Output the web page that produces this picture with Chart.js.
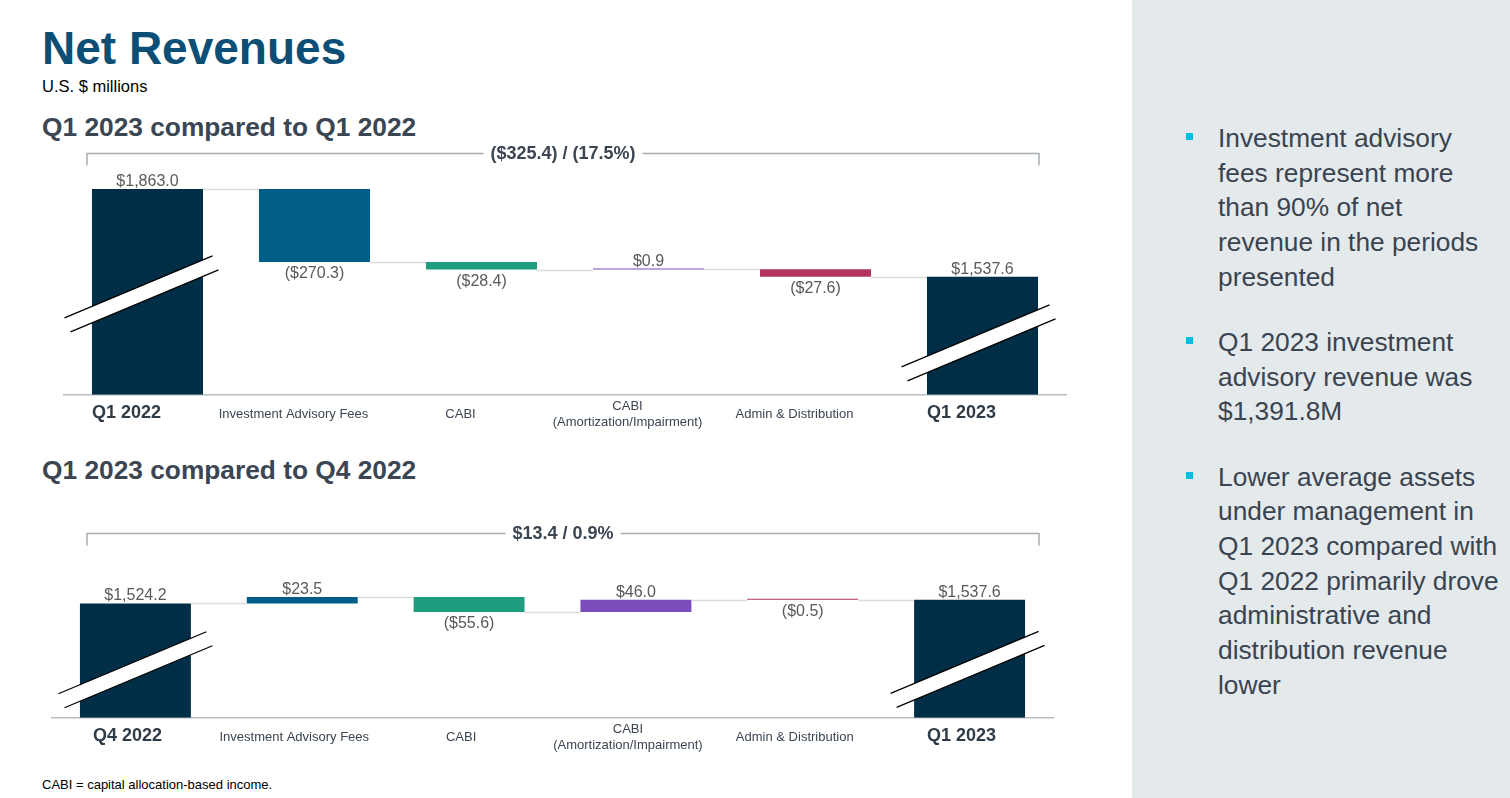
<!DOCTYPE html>
<html>
<head>
<meta charset="utf-8">
<title>Net Revenues</title>
<script src="https://cdn.jsdelivr.net/npm/chart.js@4.4.0/dist/chart.umd.min.js"></script>
<style>
  body { margin: 0; width: 1510px; height: 798px; position: relative; overflow: hidden; background: #fff;
         font-family: "Liberation Sans", Arial, sans-serif; }
  .abs { position: absolute; white-space: nowrap; line-height: 1; }
  #title { left: 42px; top: 25px; font-size: 46px; font-weight: bold; color: #0b4e76; }
  #units { left: 42px; top: 78px; font-size: 16.5px; color: #000; }
  .section { left: 42px; font-size: 26.3px; font-weight: bold; color: #3b4652; }
  #foot { left: 42px; top: 778px; font-size: 13px; color: #000; }
  .chartBox { position: absolute; left: 0; width: 1100px; }
  #panel { position: absolute; left: 1132px; top: 0; width: 378px; height: 798px; background: #e4e9ec; }
  #panel ul { list-style: none; margin: 0; padding: 0; position: absolute; left: 86px; top: 121px; }
  #panel li { position: relative; font-size: 26.3px; line-height: 34.7px; color: #3a4450; margin-bottom: 30.5px; white-space: nowrap; }
  #panel li::before { content: ""; position: absolute; left: -32px; top: 12px; width: 7px; height: 7px; background: #00bfe3; }
</style>
</head>
<body>
<div id="title" class="abs">Net Revenues</div>
<div id="units" class="abs">U.S. $ millions</div>
<div class="abs section" style="top:114px">Q1 2023 compared to Q1 2022</div>
<div class="abs section" style="top:457px">Q1 2023 compared to Q4 2022</div>

<div class="chartBox" style="top:140px; height:310px;"><canvas id="chartQ1"></canvas></div>
<div class="chartBox" style="top:500px; height:273px;"><canvas id="chartQ4"></canvas></div>

<div id="foot" class="abs">CABI = capital allocation-based income.</div>

<div id="panel">
  <ul>
    <li>Investment advisory<br>fees represent more<br>than 90% of net<br>revenue in the periods<br>presented</li>
    <li>Q1 2023 investment<br>advisory revenue was<br>$1,391.8M</li>
    <li>Lower average assets<br>under management in<br>Q1 2023 compared with<br>Q1 2022 primarily drove<br>administrative and<br>distribution revenue<br>lower</li>
  </ul>
</div>

<script>
// Axis floor for the broken total bars
const AXIS_MIN = 1100;

// Q1 2023 compared to Q1 2022
const q1Categories = ['Q1 2022', 'Investment Advisory Fees', 'CABI', ['CABI', '(Amortization/Impairment)'], 'Admin & Distribution', 'Q1 2023'];
const q1Start = 1863.0;
const q1Changes = [-270.3, -28.4, 0.9, -27.6];
const q1End = 1537.6;
const q1Bracket = '($325.4) / (17.5%)';

// Q1 2023 compared to Q4 2022
const q4Categories = ['Q4 2022', 'Investment Advisory Fees', 'CABI', ['CABI', '(Amortization/Impairment)'], 'Admin & Distribution', 'Q1 2023'];
const q4Start = 1524.2;
const q4Changes = [23.5, -55.6, 46.0, -0.5];
const q4End = 1537.6;
const q4Bracket = '$13.4 / 0.9%';

const barColors = ['#002e46', '#005d88', '#1f9e7f', '#7a4cbc', '#b03360', '#002e46'];

// Build floating [from, to] pairs for a waterfall
function buildWaterfall(start, changes, end) {
    const rows = [[AXIS_MIN, start]];
    let level = start;
    changes.forEach(c => {
        rows.push([level, level + c]);
        level += c;
    });
    rows.push([AXIS_MIN, end]);
    return rows;
}

function money(v) {
    const s = '$' + Math.abs(v).toLocaleString('en-US', { minimumFractionDigits: 1, maximumFractionDigits: 1 });
    return v < 0 ? '(' + s + ')' : s;
}

// Connectors, value labels, axis breaks and the total bracket
const waterfallExtras = {
    id: 'waterfallExtras',
    afterDatasetsDraw(chart, args, opts) {
        const ctx = chart.ctx;
        const bars = chart.getDatasetMeta(0).data;
        const rows = chart.data.datasets[0].data;
        const yScale = chart.scales.y;
        const last = bars.length - 1;
        ctx.save();

        // connectors between bars
        ctx.strokeStyle = '#dcdcdc';
        ctx.lineWidth = 1.5;
        for (let i = 0; i < last; i++) {
            const py = Math.round(yScale.getPixelForValue(rows[i][1])) + 0.5;
            const x1 = bars[i].x + bars[i].width / 2;
            const x2 = bars[i + 1].x - bars[i + 1].width / 2;
            ctx.beginPath();
            ctx.moveTo(x1, py);
            ctx.lineTo(x2, py);
            ctx.stroke();
        }

        // value labels
        ctx.font = '16px "Liberation Sans", Arial, sans-serif';
        ctx.fillStyle = '#595959';
        ctx.textAlign = 'center';
        ctx.textBaseline = 'alphabetic';
        opts.values.forEach((v, i) => {
            const b = bars[i];
            const top = Math.min(b.y, b.base);
            const bottom = Math.max(b.y, b.base);
            if (v < 0) {
                ctx.fillText(money(v), b.x, bottom + 16);
            } else {
                ctx.fillText(money(v), b.x, top - 3);
            }
        });

        // axis break marks on the two total bars
        [0, last].forEach((i, k) => {
            const b = bars[i];
            const top = Math.min(b.y, b.base);
            const bottom = Math.max(b.y, b.base);
            const cx = b.x + opts.breakShift[k];
            const cy = top + (bottom - top) * opts.breakAt[k];
            const hx = 74, hy = 31, ox = 6, oy = 14;
            ctx.beginPath();
            ctx.moveTo(cx - hx - ox / 2, cy + hy - oy / 2);
            ctx.lineTo(cx + hx - ox / 2, cy - hy - oy / 2);
            ctx.lineTo(cx + hx + ox / 2, cy - hy + oy / 2);
            ctx.lineTo(cx - hx + ox / 2, cy + hy + oy / 2);
            ctx.closePath();
            ctx.fillStyle = '#ffffff';
            ctx.fill();
            ctx.strokeStyle = '#000000';
            ctx.lineWidth = 1.3;
            ctx.beginPath();
            ctx.moveTo(cx - hx - ox / 2, cy + hy - oy / 2);
            ctx.lineTo(cx + hx - ox / 2, cy - hy - oy / 2);
            ctx.moveTo(cx - hx + ox / 2, cy + hy + oy / 2);
            ctx.lineTo(cx + hx + ox / 2, cy - hy + oy / 2);
            ctx.stroke();
        });

        // bracket with total change
        const br = opts.bracket;
        const mid = (br.x1 + br.x2) / 2;
        ctx.font = 'bold 18px "Liberation Sans", Arial, sans-serif';
        const tw = ctx.measureText(br.text).width;
        ctx.strokeStyle = '#a7adb3';
        ctx.lineWidth = 1.5;
        ctx.beginPath();
        ctx.moveTo(br.x1, br.y + 12);
        ctx.lineTo(br.x1, br.y);
        ctx.lineTo(mid - tw / 2 - 7, br.y);
        ctx.moveTo(mid + tw / 2 + 7, br.y);
        ctx.lineTo(br.x2, br.y);
        ctx.lineTo(br.x2, br.y + 12);
        ctx.stroke();
        ctx.fillStyle = '#3b4652';
        ctx.textBaseline = 'middle';
        ctx.fillText(br.text, mid, br.y + 1);

        ctx.restore();
    }
};

function makeChart(canvasId, categories, start, changes, end, yMax, padding, labelShift, bracket, breakAt, breakShift) {
    const ctx = document.getElementById(canvasId).getContext('2d');
    return new Chart(ctx, {
        type: 'bar',
        data: {
            labels: categories,
            datasets: [{
                data: buildWaterfall(start, changes, end),
                backgroundColor: barColors,
                borderWidth: 0,
                categoryPercentage: 1,
                barPercentage: 0.665,
                minBarLength: 1
            }]
        },
        options: {
            responsive: true,
            maintainAspectRatio: false,
            animation: false,
            layout: { padding: padding },
            scales: {
                x: {
                    grid: { display: false, drawTicks: false },
                    border: { display: true, color: '#b5bdc5', width: 1.5 },
                    ticks: {
                        padding: 12,
                        crossAlign: 'center',
                        labelOffset: labelShift,
                        maxRotation: 0,
                        autoSkip: false,
                        color: (c) => (c.index === 0 || c.index === categories.length - 1) ? '#2f3b46' : '#3b4652',
                        font: (c) => (c.index === 0 || c.index === categories.length - 1)
                            ? { family: '"Liberation Sans", Arial, sans-serif', size: 18, weight: 'bold', lineHeight: 1.0 }
                            : { family: '"Liberation Sans", Arial, sans-serif', size: 13 }
                    }
                },
                y: { display: false, min: AXIS_MIN, max: yMax }
            },
            plugins: {
                legend: { display: false },
                tooltip: { enabled: false },
                waterfallExtras: {
                    values: [start, ...changes, end],
                    bracket: bracket,
                    breakAt: breakAt,
                    breakShift: breakShift
                }
            }
        },
        plugins: [waterfallExtras]
    });
}

document.addEventListener('DOMContentLoaded', function() {
    makeChart('chartQ1', q1Categories, q1Start, q1Changes, q1End, 1900,
        { left: 64, right: 34, top: 39, bottom: 0 }, -21,
        { text: q1Bracket, x1: 87, x2: 1039, y: 13.5 }, [0.51, 0.56], [-6, -4]);
    makeChart('chartQ4', q4Categories, q4Start, q4Changes, q4End, 1700,
        { left: 52, right: 47, top: 56, bottom: 0 }, -8,
        { text: q4Bracket, x1: 87, x2: 1039, y: 33.5 }, [0.58, 0.59], [0, -2]);
});
</script>
</body>
</html>
